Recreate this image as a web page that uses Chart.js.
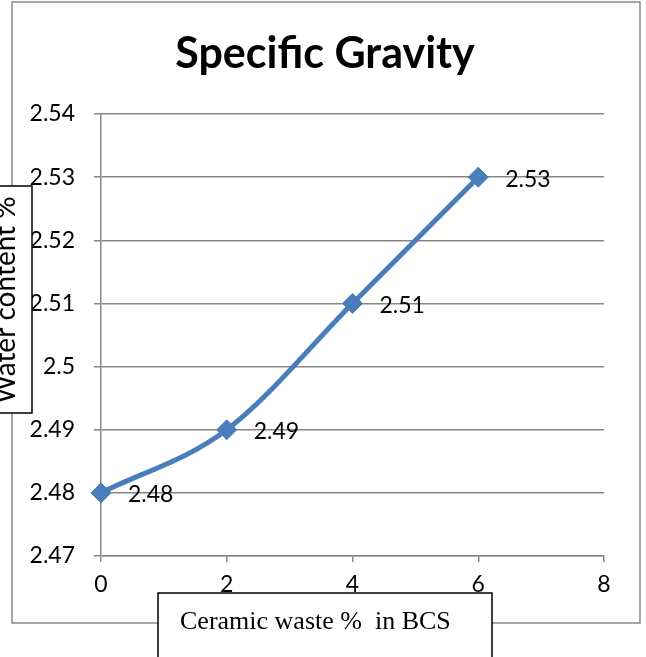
<!DOCTYPE html>
<html>
<head>
<meta charset="utf-8">
<script src="https://cdn.jsdelivr.net/npm/chart.js@4/dist/chart.umd.min.js"></script>
<style>
  html, body { margin: 0; padding: 0; background: #fff; }
  #wrap { position: relative; width: 646px; height: 657px; overflow: hidden; }
  #chart { position: absolute; left: 0; top: 0; }
</style>
</head>
<body>
<div id="wrap"><canvas id="chart" width="646" height="657"></canvas></div>
<script>
const CHART_TITLE = 'Specific Gravity';
const X_TITLE = 'Ceramic waste %  in BCS';
const Y_TITLE = 'Water content %';

const ceramicWaste = [0, 2, 4, 6];
const specificGravity = [2.48, 2.49, 2.51, 2.53];
const yTicks = [2.47, 2.48, 2.49, 2.50, 2.51, 2.52, 2.53, 2.54];
const xTicks = [0, 2, 4, 6, 8];

const LINE_BLUE = '#4A7EBB';
const GRID = '#878787';
const LABEL_FONT = 'Lato, "Open Sans", sans-serif';

// frame, title, axis title boxes, point labels
const decorations = {
    id: 'decorations',
    beforeDraw(chart) {
        const c = chart.ctx;
        c.save();
        c.fillStyle = '#fff';
        c.fillRect(0, 0, chart.width, chart.height);
        c.strokeStyle = '#8a8a8a';
        c.lineWidth = 1.5;
        c.strokeRect(12, 2, 628, 621);
        c.restore();
    },
    afterDatasetsDraw(chart) {
        const c = chart.ctx;
        const meta = chart.getDatasetMeta(0);
        c.save();
        c.fillStyle = '#000';
        c.font = '23px ' + LABEL_FONT;
        c.textAlign = 'left';
        c.textBaseline = 'middle';
        meta.data.forEach((pt, i) => {
            c.fillText(String(specificGravity[i]), pt.x + 27, pt.y + 2);
        });
        c.restore();
    },
    afterDraw(chart) {
        const c = chart.ctx;
        c.save();
        // title
        c.fillStyle = '#000';
        c.font = 'bold 43px ' + LABEL_FONT;
        c.textAlign = 'center';
        c.textBaseline = 'alphabetic';
        c.fillText(CHART_TITLE, 325, 68);

        // y title box
        c.fillStyle = '#fff';
        c.fillRect(-5, 186, 37, 227);
        c.strokeStyle = '#000';
        c.lineWidth = 1.5;
        c.strokeRect(-5, 186, 37, 227);
        c.save();
        c.translate(15, 300);
        c.rotate(-Math.PI / 2);
        c.fillStyle = '#000';
        c.font = '28px ' + LABEL_FONT;
        c.textAlign = 'center';
        c.textBaseline = 'alphabetic';
        c.fillText(Y_TITLE, 0, 0);
        c.restore();

        // x title box
        c.fillStyle = '#fff';
        c.fillRect(158, 593, 334, 70);
        c.strokeRect(158, 593, 334, 70);
        c.fillStyle = '#000';
        c.font = '26px "Liberation Serif", "Times New Roman", serif';
        c.textAlign = 'left';
        c.fillText(X_TITLE, 180, 629);
        c.restore();
    }
};

new Chart(document.getElementById('chart'), {
    type: 'line',
    data: {
        datasets: [{
            data: ceramicWaste.map((x, i) => ({ x: x, y: specificGravity[i] })),
            borderColor: LINE_BLUE,
            backgroundColor: LINE_BLUE,
            borderWidth: 5,
            tension: 0.4,
            cubicInterpolationMode: 'monotone',
            pointStyle: 'rectRot',
            pointRadius: 10,
            pointBorderWidth: 1,
            pointBorderColor: LINE_BLUE,
            pointBackgroundColor: LINE_BLUE,
            clip: false
        }]
    },
    options: {
        responsive: false,
        animation: false,
        events: [],
        layout: { padding: { left: 0, top: 114, right: 42, bottom: 61 } },
        plugins: {
            legend: { display: false },
            title: { display: false },
            tooltip: { enabled: false }
        },
        scales: {
            x: {
                type: 'linear',
                min: 0,
                max: 8,
                afterBuildTicks: s => { s.ticks = xTicks.map(v => ({ value: v })); },
                afterFit: s => { s.height = 40; },
                grid: {
                    drawOnChartArea: false,
                    drawTicks: true,
                    tickLength: 6,
                    color: GRID,
                    lineWidth: 1.5
                },
                border: { color: GRID, width: 1.5 },
                ticks: {
                    color: '#000',
                    font: { family: LABEL_FONT, size: 23 },
                    padding: 9,
                    maxRotation: 0
                }
            },
            y: {
                min: 2.47,
                max: 2.54,
                afterBuildTicks: s => { s.ticks = yTicks.map(v => ({ value: v })); },
                afterFit: s => { s.width = 101; },
                grid: {
                    drawOnChartArea: true,
                    drawTicks: true,
                    tickLength: 7,
                    color: GRID,
                    lineWidth: 1.5
                },
                border: { color: GRID, width: 1.5 },
                ticks: {
                    color: '#000',
                    font: { family: LABEL_FONT, size: 23 },
                    padding: 19,
                    callback: v => String(+v.toFixed(2))
                }
            }
        }
    },
    plugins: [decorations]
});
</script>
</body>
</html>
